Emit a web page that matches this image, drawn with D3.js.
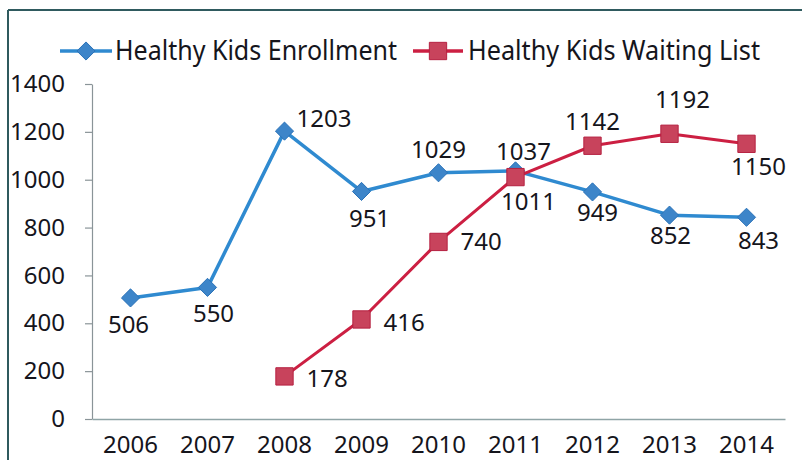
<!DOCTYPE html>
<html>
<head>
<meta charset="utf-8">
<script src="https://cdn.jsdelivr.net/npm/d3@7"></script>
<style>
  html, body { margin: 0; padding: 0; background: #ffffff; }
  svg { display: block; }
  text { font-family: "Noto Sans", "Open Sans", sans-serif; fill: #15151c; }
</style>
</head>
<body>
<svg id="chart" width="802" height="460"></svg>
<script>
const years = ["2006","2007","2008","2009","2010","2011","2012","2013","2014"];
const enrollment = [506, 550, 1203, 951, 1029, 1037, 949, 852, 843];
const waitingList = [null, null, 178, 416, 740, 1011, 1142, 1192, 1150];
const yTicks = [0, 200, 400, 600, 800, 1000, 1200, 1400];
const seriesNames = ["Healthy Kids Enrollment", "Healthy Kids Waiting List"];

// label placement (offsets from the point, in px) — layout only
const enrollLabelPos = [[-2,27,"middle"],[6,26,"middle"],[12,-13,"start"],[8,27,"middle"],[0,-23,"middle"],[8,-19,"middle"],[5,21,"middle"],[1,20,"middle"],[12,23,"middle"]];
const waitLabelPos = [null,null,[22,2,"start"],[22,3,"start"],[22,0,"start"],[13,25,"middle"],[0,-24,"middle"],[13,-34,"middle"],[12,23,"middle"]];

const blueLine = "#2f8ad0", blueFill = "#3d85c9", blueStroke = "#2a72b8";
const redLine = "#cc1f42", redFill = "#c8435c", redStroke = "#b52040";

const svg = d3.select("#chart");

// frame of the scanned chart
svg.append("line").attr("x1", 8).attr("x2", 802).attr("y1", 10).attr("y2", 10)
  .attr("stroke", "#2f5a5e").attr("stroke-width", 2);
svg.append("line").attr("x1", 8).attr("x2", 8).attr("y1", 10).attr("y2", 460)
  .attr("stroke", "#2f5a5e").attr("stroke-width", 2);

const x = d3.scaleBand().domain(years).range([92, 785]).padding(0);
const y = d3.scaleLinear().domain([0, 1400]).range([419, 84]);
const cx = d => x(d) + x.bandwidth() / 2;

// y axis
const yAxis = svg.append("g").attr("transform", "translate(92,0)")
  .call(d3.axisLeft(y).tickValues(yTicks).tickFormat(d3.format("d"))
    .tickSize(7).tickPadding(20).tickSizeOuter(0));
yAxis.select(".domain").attr("stroke", "#8a9498").attr("stroke-width", 1.2);
yAxis.selectAll(".tick line").attr("stroke", "#8a9498").attr("stroke-width", 1.2);
yAxis.selectAll(".tick text").attr("font-size", 24).attr("fill", "#15151c")
  .attr("font-family", "'Noto Sans', sans-serif");

// x axis
const xAxis = svg.append("g").attr("transform", "translate(0,419)")
  .call(d3.axisBottom(x).tickSize(0).tickPadding(17).tickSizeOuter(0));
xAxis.select(".domain").attr("stroke", "#8fa4a6").attr("stroke-width", 1.5);
xAxis.selectAll(".tick text").attr("font-size", 24).attr("fill", "#15151c")
  .attr("font-family", "'Noto Sans', sans-serif");

// lines
const lineGen = d3.line().defined(d => d.v != null).x(d => cx(d.year)).y(d => y(d.v));
const enrollData = years.map((yr, i) => ({ year: yr, v: enrollment[i], pos: enrollLabelPos[i] }));
const waitData = years.map((yr, i) => ({ year: yr, v: waitingList[i], pos: waitLabelPos[i] }));

svg.append("path").datum(enrollData).attr("d", lineGen)
  .attr("fill", "none").attr("stroke", blueLine).attr("stroke-width", 3.5).attr("stroke-linejoin", "round");
svg.append("path").datum(waitData).attr("d", lineGen)
  .attr("fill", "none").attr("stroke", redLine).attr("stroke-width", 3).attr("stroke-linejoin", "round");

const diamond = d3.symbol().type(d3.symbolDiamond2).size(210);
const square = d3.symbol().type(d3.symbolSquare).size(300);

svg.append("g").selectAll("path").data(enrollData).join("path")
  .attr("d", diamond)
  .attr("transform", d => `translate(${cx(d.year)},${y(d.v)})`)
  .attr("fill", blueFill).attr("stroke", blueStroke).attr("stroke-width", 1);

svg.append("g").selectAll("path").data(waitData.filter(d => d.v != null)).join("path")
  .attr("d", square)
  .attr("transform", d => `translate(${cx(d.year)},${y(d.v)})`)
  .attr("fill", redFill).attr("stroke", redStroke).attr("stroke-width", 1);

// data labels
function addLabels(data) {
  svg.append("g").selectAll("text").data(data.filter(d => d.v != null)).join("text")
    .attr("x", d => cx(d.year) + d.pos[0])
    .attr("y", d => y(d.v) + d.pos[1])
    .attr("dy", "0.35em")
    .attr("text-anchor", d => d.pos[2])
    .attr("font-size", 24)
    .text(d => d.v);
}
addLabels(enrollData);
addLabels(waitData);

// legend
const legend = svg.append("g");
const legendItems = [
  { name: seriesNames[0], x0: 60, x1: 112, tx: 115, tw: 282, color: blueLine, sym: diamond, fill: blueFill, stroke: blueStroke },
  { name: seriesNames[1], x0: 413, x1: 463, tx: 468, tw: 292, color: redLine, sym: square, fill: redFill, stroke: redStroke }
];
legendItems.forEach(it => {
  legend.append("line").attr("x1", it.x0).attr("x2", it.x1).attr("y1", 51).attr("y2", 51)
    .attr("stroke", it.color).attr("stroke-width", 3.5);
  legend.append("path").attr("d", it.sym)
    .attr("transform", `translate(${(it.x0 + it.x1) / 2},51)`)
    .attr("fill", it.fill).attr("stroke", it.stroke).attr("stroke-width", 1);
  legend.append("text").attr("x", it.tx).attr("y", 51).attr("dy", "0.35em")
    .attr("font-size", 27)
    .attr("textLength", it.tw).attr("lengthAdjust", "spacingAndGlyphs")
    .text(it.name);
});
</script>
</body>
</html>
